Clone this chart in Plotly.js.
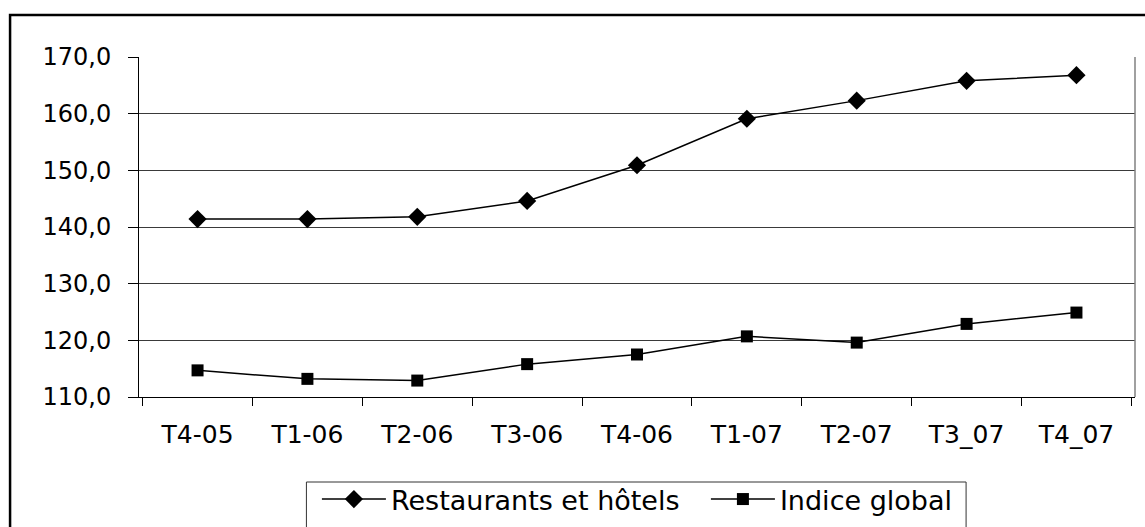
<!DOCTYPE html>
<html>
<head>
<meta charset="utf-8">
<script src="https://cdn.plot.ly/plotly-3.0.1.min.js"></script>
<style>
  html, body { margin: 0; padding: 0; background: #fff; }
  #chart { width: 1145px; height: 527px; }
</style>
</head>
<body>
<div id="chart"></div>
<script>
const categories = ["T4-05", "T1-06", "T2-06", "T3-06", "T4-06", "T1-07", "T2-07", "T3_07", "T4_07"];
const restaurantsHotels = [141.4, 141.4, 141.8, 144.6, 150.9, 159.1, 162.3, 165.8, 166.8];
const indiceGlobal = [114.7, 113.2, 112.9, 115.8, 117.5, 120.7, 119.6, 122.9, 124.9];
const seriesNames = ["Restaurants et hôtels", "Indice global"];
const yTicks = [110, 120, 130, 140, 150, 160, 170];

const W = 1145, H = 527;
const L = 139, R = 9.5, T = 57, B = 130;
const pw = W - L - R, ph = H - T - B;
const px = x => (x - L) / pw;
const py = y => (H - B - y) / ph;

const font = "DejaVu Sans, Verdana, sans-serif";

const traces = [
  {
    x: categories, y: restaurantsHotels, name: seriesNames[0],
    type: "scatter", mode: "lines+markers",
    line: { color: "#000", width: 1.5 },
    marker: { symbol: "diamond", size: 14, color: "#000" }
  },
  {
    x: categories, y: indiceGlobal, name: seriesNames[1],
    type: "scatter", mode: "lines+markers",
    line: { color: "#000", width: 1.5 },
    marker: { symbol: "square", size: 12, color: "#000" }
  }
];

const layout = {
  width: W, height: H,
  margin: { l: L, r: R, t: T, b: B, pad: 0, autoexpand: false },
  paper_bgcolor: "#fff", plot_bgcolor: "#fff",
  separators: ", ",
  font: { family: font, color: "#000", size: 24 },
  showlegend: true,
  legend: {
    orientation: "h",
    x: px(317), xanchor: "left",
    y: py(475), yanchor: "top",
    bgcolor: "rgba(0,0,0,0)",
    borderwidth: 0,
    font: { family: font, size: 27, color: "#000" },
    itemwidth: 64,
    entrywidth: 310,
    entrywidthmode: "pixels"
  },
  xaxis: {
    type: "category",
    tickson: "boundaries",
    ticks: "outside", ticklen: 8, tickcolor: "#000", tickwidth: 1,
    showline: true, linecolor: "#000", linewidth: 1,
    showgrid: false, zeroline: false,
    tickfont: { family: font, size: 25, color: "#000" },
    ticklabelstandoff: 15,
    fixedrange: true
  },
  yaxis: {
    range: [110, 170],
    tickvals: yTicks,
    tickformat: ".1f",
    ticks: "outside", ticklen: 10, tickcolor: "#000", tickwidth: 1,
    showline: true, linecolor: "#000", linewidth: 1,
    showgrid: true, gridcolor: "#3a3a3a", gridwidth: 1,
    zeroline: false,
    tickfont: { family: font, size: 24, color: "#000" },
    ticklabelstandoff: 12,
    fixedrange: true
  },
  shapes: [
    // plot-area right border (grey)
    { type: "line", xref: "paper", yref: "paper", x0: 1, x1: 1, y0: 0, y1: 1,
      line: { color: "#808080", width: 1.5 } },
    // outer chart border
    { type: "rect", xref: "paper", yref: "paper",
      x0: px(10), x1: px(1170), y0: py(560), y1: py(15),
      line: { color: "#000", width: 2.5 }, layer: "below" },
    // legend box
    { type: "rect", xref: "paper", yref: "paper",
      x0: px(306.5), x1: px(966.5), y0: py(560), y1: py(482),
      line: { color: "#333", width: 1 }, layer: "below" }
  ]
};

Plotly.newPlot("chart", traces, layout, { displayModeBar: false, staticPlot: true });
</script>
</body>
</html>
